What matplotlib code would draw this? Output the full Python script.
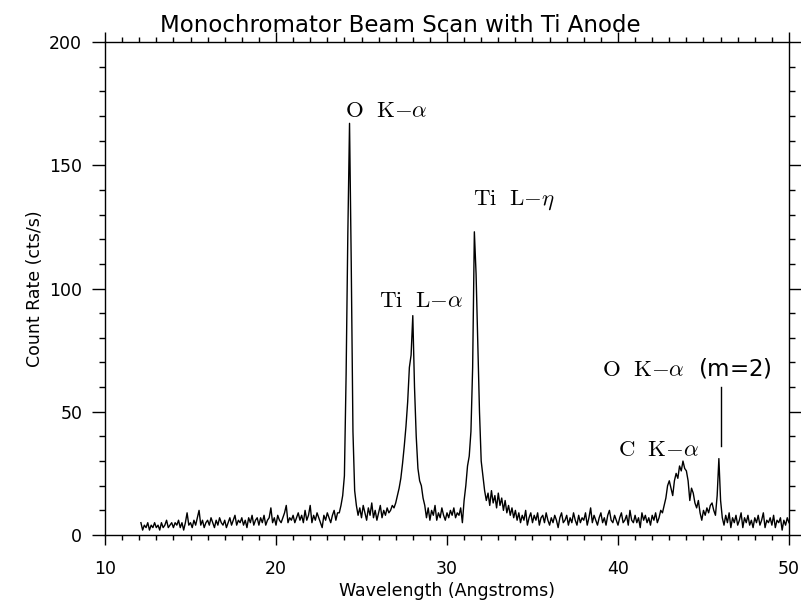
import numpy as np
import matplotlib
matplotlib.use("Agg")
import matplotlib.pyplot as plt
from matplotlib.ticker import MultipleLocator

plt.rcParams['mathtext.fontset'] = 'cm'
plt.rcParams['font.family'] = ['DejaVu Sans']

# Spectrum, 0.1 Angstrom steps from 12.1 to 50.0
wave_start = 12.1
wave_step = 0.1
counts = [
    5, 2, 4, 3, 5, 2, 4, 3, 5,                 # 12.1 - 12.9
    3, 4, 2, 5, 3, 4, 6, 3, 4, 5,              # 13
    3, 5, 4, 6, 3, 5, 2, 5, 9, 4,              # 14
    5, 3, 6, 4, 7, 10, 4, 6, 3, 5,             # 15
    6, 4, 7, 5, 3, 6, 4, 7, 5, 4,              # 16
    6, 3, 5, 7, 4, 6, 8, 4, 6, 5,              # 17
    7, 4, 6, 3, 7, 5, 8, 4, 6, 7,              # 18
    4, 7, 5, 8, 4, 6, 7, 11, 5, 7,             # 19
    4, 8, 6, 5, 7, 9, 12, 5, 7, 6,             # 20
    8, 5, 7, 9, 6, 8, 5, 10, 6, 8,             # 21
    12, 5, 8, 6, 9, 7, 5, 3, 8, 6,             # 22
    9, 7, 5, 8, 10, 6, 9, 9, 12, 16,           # 23
    24, 65, 122, 167, 110, 42, 18, 12, 8, 11,  # 24
    7, 12, 9, 6, 11, 8, 13, 7, 10, 6,          # 25
    9, 12, 7, 10, 8, 11, 9, 10, 12, 11,        # 26
    13, 16, 19, 23, 29, 36, 44, 54, 68, 73,    # 27
    89, 60, 40, 27, 22, 20, 15, 12, 7, 11,     # 28
    6, 10, 8, 12, 6, 9, 7, 11, 8, 6,           # 29
    9, 7, 10, 8, 11, 7, 9, 8, 11, 5,           # 30
    14, 20, 28, 32, 42, 68, 123, 106, 78, 50,  # 31
    30, 24, 18, 14, 17, 12, 18, 13, 16, 11,    # 32
    17, 12, 15, 10, 14, 9, 12, 8, 11, 7,       # 33
    10, 6, 9, 5, 8, 6, 10, 4, 7, 9,            # 34
    5, 8, 6, 9, 4, 7, 8, 5, 9, 6,              # 35
    4, 7, 5, 8, 6, 3, 7, 9, 5, 6,              # 36
    8, 4, 7, 5, 9, 6, 4, 8, 5, 7,              # 37
    6, 9, 4, 7, 11, 5, 8, 6, 4, 7,             # 38
    9, 5, 7, 4, 8, 10, 6, 5, 8, 6,             # 39
    4, 7, 9, 5, 6, 8, 4, 10, 6, 5,             # 40
    8, 5, 7, 3, 9, 6, 8, 5, 7, 4,              # 41
    8, 6, 9, 5, 7, 10, 9, 12, 15, 20,          # 42
    22, 19, 16, 22, 25, 23, 28, 26, 30, 27,    # 43
    26, 22, 14, 19, 17, 13, 11, 14, 9, 6,      # 44
    10, 8, 11, 9, 12, 13, 10, 8, 16, 31,       # 45
    14, 7, 4, 8, 5, 9, 3, 7, 5, 8,             # 46
    4, 6, 9, 3, 7, 5, 8, 4, 6, 3,              # 47
    7, 5, 8, 4, 6, 9, 3, 6, 5, 7,              # 48
    4, 8, 3, 6, 5, 7, 2, 6, 4, 7,              # 49
    5,                                         # 50.0
]
wave = wave_start + wave_step * np.arange(len(counts))

# line labels: text, x, y (baseline-left)
line_names = [r'$\mathrm{O\ \ K}{-}\alpha$', r'$\mathrm{Ti\ \ L}{-}\alpha$',
              r'$\mathrm{Ti\ \ L}{-}\eta$', r'$\mathrm{C\ \ K}{-}\alpha$',
              r'$\mathrm{O\ \ K}{-}\alpha$  (m=2)']
line_x = [24.04, 26.03, 31.5, 40.02, 39.04]
line_y = [169.6, 92.6, 133.9, 32.0, 64.9]

# marker for the second order line
m2_x = 46.0
m2_y = [36, 60]

fig = plt.figure(figsize=(8.01, 6.07), dpi=100)
ax = fig.add_axes([0.1311, 0.1186, 0.985 - 0.1311, 0.9308 - 0.1186])

ax.plot(wave, counts, color='black', lw=1.0)
ax.plot([m2_x, m2_x], m2_y, color='black', lw=1.0)

for name, x, y in zip(line_names, line_x, line_y):
    ax.text(x, y, name, fontsize=16.5, ha='left', va='baseline')

ax.set_xlim(10, 50)
ax.set_ylim(0, 200)
ax.xaxis.set_major_locator(MultipleLocator(10))
ax.xaxis.set_minor_locator(MultipleLocator(1))
ax.yaxis.set_major_locator(MultipleLocator(50))
ax.yaxis.set_minor_locator(MultipleLocator(10))

ax.tick_params(axis='both', which='both', direction='out', top=True, right=True,
               color='black', width=1.0, labelsize=12.5)
ax.tick_params(axis='x', which='major', length=7.2, pad=11)
ax.tick_params(axis='x', which='minor', length=3.6)
ax.tick_params(axis='y', which='major', length=9.4, pad=7)
ax.tick_params(axis='y', which='minor', length=4.3)
for sp in ax.spines.values():
    sp.set_linewidth(1.0)

ax.set_xlabel('Wavelength (Angstroms)', fontsize=12.5, labelpad=3)
ax.set_ylabel('Count Rate (cts/s)', fontsize=12.5, labelpad=4)

fig.text(0.5, 1 - 32 / 607, 'Monochromator Beam Scan with Ti Anode',
         fontsize=16.5, ha='center', va='baseline')

fig.canvas.draw()
ylabels = ax.get_yticklabels()
ylabels[0].set_va('bottom')
ylabels[-1].set_va('top')

fig.savefig('out.png', dpi=100)
